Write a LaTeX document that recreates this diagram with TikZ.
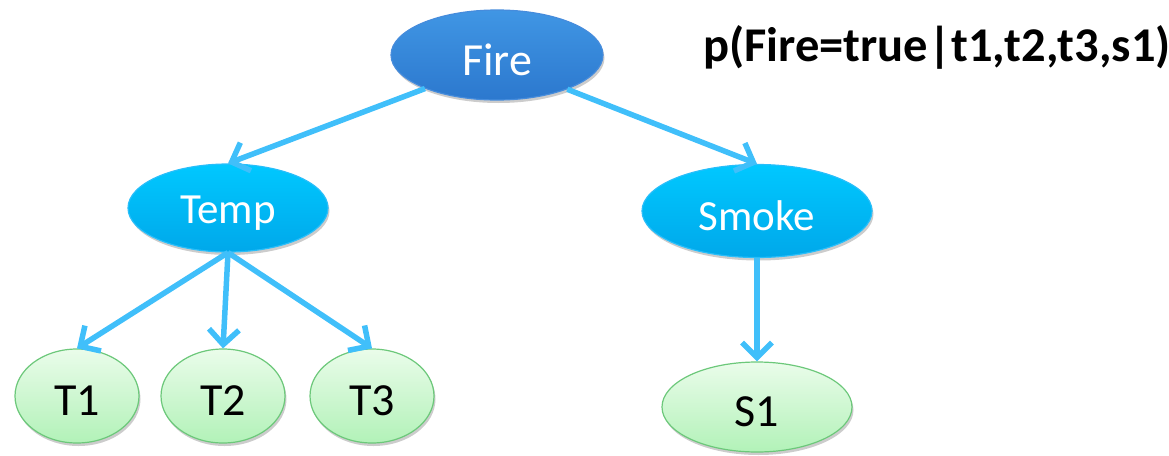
\documentclass[tikz,border=0pt]{standalone}
\usepackage{fontspec}
\setmainfont{Carlito}
\usetikzlibrary{shapes.geometric,arrows.meta,shadows}
\definecolor{arrowblue}{RGB}{64,191,250}
\definecolor{firetop}{RGB}{64,150,228}
\definecolor{firebot}{RGB}{44,120,206}
\definecolor{fireline}{RGB}{70,140,220}
\definecolor{cyantop}{RGB}{0,200,255}
\definecolor{cyanbot}{RGB}{0,168,234}
\definecolor{cyanline}{RGB}{40,190,250}
\definecolor{greentop}{RGB}{234,252,234}
\definecolor{greenbot}{RGB}{178,242,184}
\definecolor{greenline}{RGB}{108,200,122}
\newcommand{\lowtext}[1]{\raisebox{-5pt}[\height][\depth]{#1}}
\tikzset{
  x=1pt, y=-1pt,
  basenode/.style={ellipse, inner sep=0pt, line width=1.2pt,
    drop shadow={shadow xshift=1.5pt, shadow yshift=-3pt, opacity=0.2, fill=black}},
  firenode/.style={basenode, draw=fireline, top color=firetop, bottom color=firebot,
    text=white, minimum width=212pt, minimum height=90pt,
    font=\fontsize{46}{46}\selectfont},
  midnode/.style={basenode, draw=cyanline, top color=cyantop, bottom color=cyanbot,
    text=white, font=\fontsize{43}{43}\selectfont},
  leafnode/.style={basenode, draw=greenline, top color=greentop, bottom color=greenbot,
    text=black, font=\fontsize{46}{46}\selectfont},
  conn/.style={draw=arrowblue, line width=5.5pt,
    -{Straight Barb[length=15pt,width=30pt,line width=5.5pt]}}
}
\begin{document}
\begin{tikzpicture}
\useasboundingbox (0,0) rectangle (1169,455);
\node[firenode] (fire) at (497,55) {\lowtext{Fire}};
\node[midnode, minimum width=200pt, minimum height=88pt] (temp) at (228,208) {\lowtext{Temp}};
\node[midnode, minimum width=230pt, minimum height=93pt] (smoke) at (757,211) {\lowtext{Smoke}};
\node[leafnode, minimum width=124pt, minimum height=94pt] (t1) at (77,396) {\lowtext{T1}};
\node[leafnode, minimum width=124pt, minimum height=94pt] (t2) at (223,396) {\lowtext{T2}};
\node[leafnode, minimum width=124pt, minimum height=94pt] (t3) at (372,396) {\lowtext{T3}};
\node[leafnode, minimum width=190pt, minimum height=90pt] (s1) at (757,407) {\lowtext{S1}};
\node[anchor=base west, inner sep=0pt, font=\fontsize{48.5}{48.5}\selectfont\bfseries] (formula) at (703,61) {p(Fire=true|t1,t2,t3,s1)};
\draw[conn] (fire.205) -- (temp.north);
\draw[conn] (fire.334) -- (smoke.north);
\draw[conn] (temp.south) -- (t1.north);
\draw[conn] (temp.south) -- (t2.north);
\draw[conn] (temp.south) -- (t3.north);
\draw[conn] (smoke.south) -- (s1.north);
\end{tikzpicture}
\end{document}
